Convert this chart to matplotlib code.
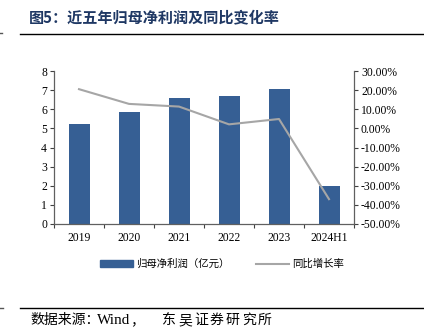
import matplotlib
matplotlib.use("Agg")
import matplotlib.pyplot as plt
from matplotlib.ticker import FuncFormatter
from matplotlib.lines import Line2D
from matplotlib.patches import Patch

plt.rcParams['font.family'] = ['Liberation Serif', 'Noto Sans CJK SC', 'DejaVu Sans']

categories = ['2019', '2020', '2021', '2022', '2023', '2024H1']
profit = [5.22, 5.88, 6.57, 6.71, 7.04, 2.0]
growth = [20.5, 12.8, 11.4, 2.1, 4.9, -37.0]
left_ticks = [0, 1, 2, 3, 4, 5, 6, 7, 8]
right_ticks = [-50, -40, -30, -20, -10, 0, 10, 20, 30]

bar_color = '#365F94'
line_color = '#A6A6A6'
cjk = ['Noto Sans CJK SC', 'DejaVu Sans']
W, H = 424, 332

fig = plt.figure(figsize=(4.24, 3.32), dpi=100)
ax = fig.add_axes([54/W, 1-224/H, 300/W, 153/H])
x = list(range(len(categories)))
ax.bar(x, profit, width=0.42, color=bar_color, zorder=2)
ax.set_xlim(-0.5, len(categories)-0.5)
ax.set_ylim(0, 8)
ax.set_yticks(left_ticks)
ax.set_xticks(x)
ax.set_xticklabels(categories)
ax.set_xticks([i - 0.5 for i in range(len(categories)+1)], minor=True)
ax.tick_params(axis='x', which='major', length=0, pad=6, labelsize=8.4)
ax.tick_params(axis='x', which='minor', length=3, direction='out', width=0.8, color='#404040')
ax.tick_params(axis='y', length=3, direction='out', width=0.8, labelsize=8.4, pad=2, color='#404040')
for s in ['top', 'right']:
    ax.spines[s].set_visible(False)
for s in ['left', 'bottom']:
    ax.spines[s].set_color('#606060')
    ax.spines[s].set_linewidth(0.9)

ax2 = ax.twinx()
ax2.plot(x, growth, color=line_color, linewidth=1.5, zorder=3)
ax2.set_ylim(-50, 30)
ax2.set_yticks(right_ticks)
ax2.yaxis.set_major_formatter(FuncFormatter(lambda v, p: f'{v:.2f}%'))
ax2.tick_params(axis='y', length=3, direction='out', width=0.8, labelsize=8.4, pad=2, color='#404040')
for s in ['top', 'left', 'bottom']:
    ax2.spines[s].set_visible(False)
ax2.spines['right'].set_color('#606060')
ax2.spines['right'].set_linewidth(0.9)

handles = [Patch(facecolor=bar_color, edgecolor=bar_color),
           Line2D([0], [0], color=line_color, linewidth=1.5)]
labels = ['归母净利润（亿元）', '同比增长率']
fig.legend(handles, labels, loc='center', bbox_to_anchor=(222/W, 1-264/H),
           ncol=2, frameon=False, prop={'family': cjk, 'size': 7.5},
           handlelength=3.2, handleheight=0.6, columnspacing=2.5, handletextpad=0.3)

fig.text(29/W, 1-17/H, '图5：近五年归母净利润及同比变化率', family=cjk,
         fontsize=10.9, fontweight='bold', color='#1F3864', va='center', ha='left')
fig.add_artist(Line2D([20/W, 1], [1-34/H, 1-34/H], color='black', linewidth=1.0))
fig.add_artist(Line2D([0, 2/W], [1-33/H, 1-33/H], color='#555555', linewidth=1.0))
fig.add_artist(Line2D([20/W, 1], [1-308/H, 1-308/H], color='black', linewidth=1.0))
fig.add_artist(Line2D([0, 3/W], [1-308/H, 1-308/H], color='#555555', linewidth=1.0))

ys = 1-320/H
fig.text(30/W, ys, '数据来源：', family=cjk, fontsize=10, color='black', va='center', ha='left')
fig.text(97/W, ys, 'Wind', family=['Liberation Serif'], fontsize=11, color='black', va='center', ha='left')
fig.text(130/W, ys, '，', family=cjk, fontsize=10, color='black', va='center', ha='left')
for i, ch in enumerate('东吴证券研究所'):
    fig.text((162 + 16*i)/W, ys, ch, family=cjk, fontsize=10, color='black', va='center', ha='left')

fig.savefig('out.png', dpi=100)
